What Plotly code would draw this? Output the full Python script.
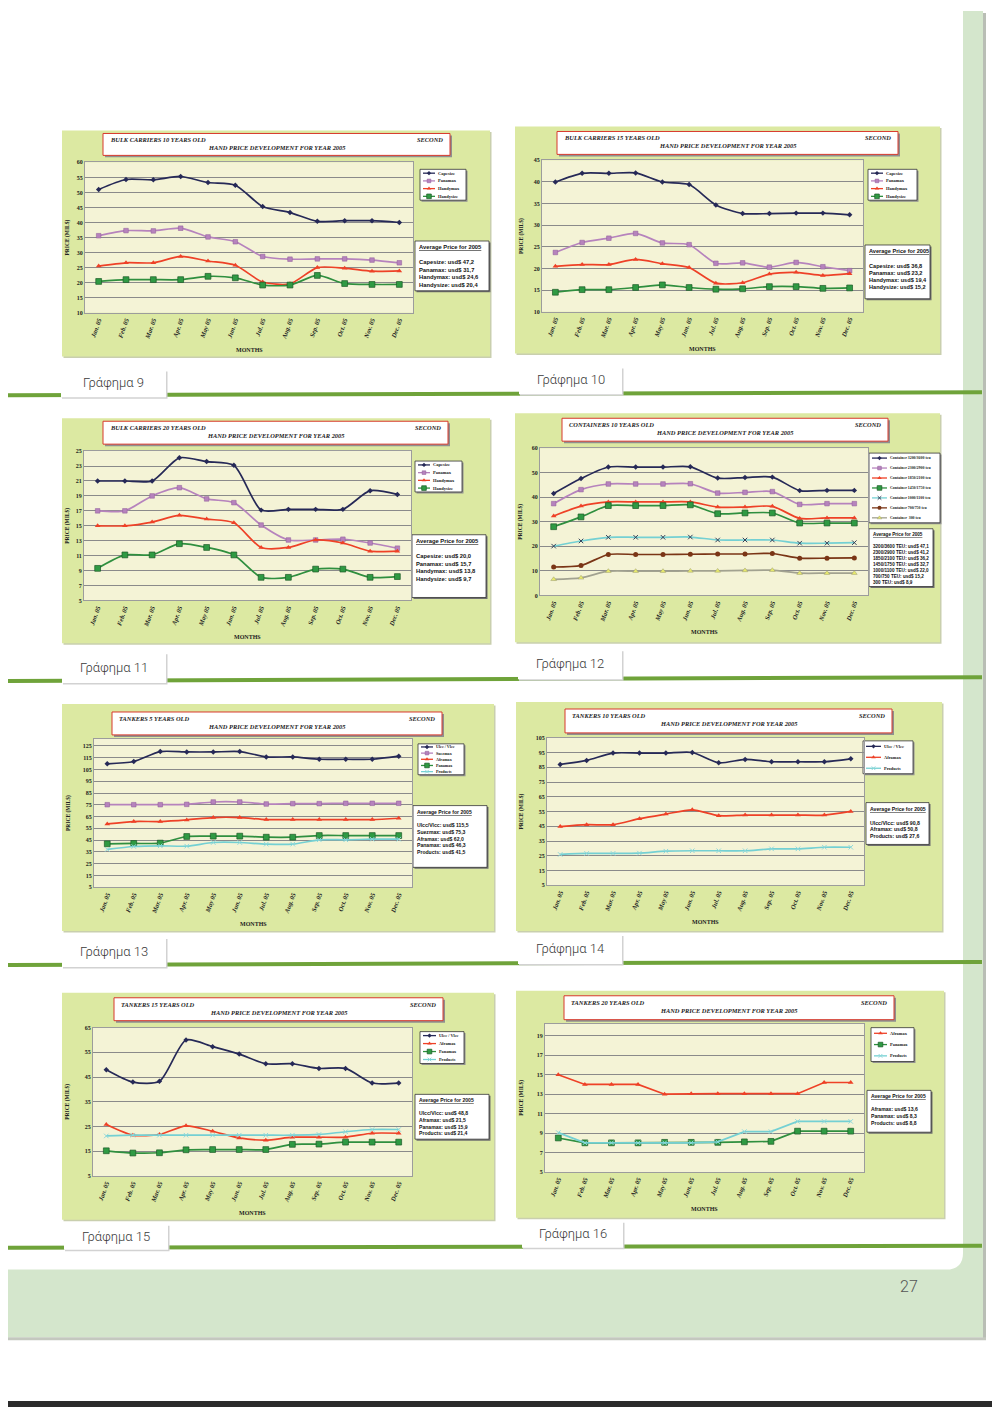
import copy
import plotly.graph_objects as go

# page is 1000 x 1414; the html body adds an 8 px margin, so the figure covers 8..1000 / 8..1414
W, H = 1000, 1414
OFF = 8
W_FIG, H_FIG = W - OFF, H - OFF

MONTHS = ["Jan. 05", "Feb. 05", "Mar. 05", "Apr. 05", "May 05", "Jun. 05",
          "Jul. 05", "Aug. 05", "Sep. 05", "Oct. 05", "Nov. 05", "Dec. 05"]

BULK_NAMES = ["Capesize", "Panamax", "Handymax", "Handysize"]

# Γράφημα 9 – Bulk carriers 10 years old
BC10_CAPESIZE = [51.0, 54.3, 54.2, 55.3, 53.3, 52.4, 45.3, 43.3, 40.4, 40.6, 40.6, 40.0]
BC10_PANAMAX = [35.6, 37.3, 37.2, 38.1, 35.2, 33.6, 28.7, 27.8, 27.9, 27.9, 27.5, 26.6]
BC10_HANDYMAX = [25.5, 26.6, 26.6, 28.7, 27.2, 25.8, 20.2, 19.6, 25.0, 24.8, 23.8, 23.9]
BC10_HANDYSIZE = [20.4, 21.0, 21.0, 21.0, 22.1, 21.6, 19.2, 19.2, 22.4, 19.7, 19.4, 19.4]
BC10_AVG = ["Capesize: usd$ 47,2", "Panamax: usd$ 31,7", "Handymax: usd$ 24,6", "Handysize: usd$ 20,4"]
BC10_YTICKS = [10, 15, 20, 25, 30, 35, 40, 45, 50, 55, 60]

# Γράφημα 10 – Bulk carriers 15 years old
BC15_CAPESIZE = [40.0, 42.0, 42.0, 42.1, 40.0, 39.4, 34.7, 32.7, 32.7, 32.8, 32.8, 32.4]
BC15_PANAMAX = [23.7, 26.0, 27.0, 28.1, 25.9, 25.5, 21.2, 21.3, 20.3, 21.4, 20.4, 19.5]
BC15_HANDYMAX = [20.5, 20.9, 20.9, 22.1, 21.1, 20.2, 16.6, 16.7, 18.7, 19.1, 18.4, 18.8]
BC15_HANDYSIZE = [14.5, 15.1, 15.1, 15.6, 16.2, 15.6, 15.2, 15.3, 15.8, 15.8, 15.4, 15.5]
BC15_AVG = ["Capesize: usd$ 36,8", "Panamax: usd$ 23,2", "Handymax: usd$ 19,4", "Handysize: usd$ 15,2"]
BC15_YTICKS = [10, 15, 20, 25, 30, 35, 40, 45]

# Γράφημα 11 – Bulk carriers 20 years old
BC20_CAPESIZE = [21.0, 21.0, 21.0, 24.1, 23.6, 23.1, 17.1, 17.2, 17.2, 17.2, 19.7, 19.2]
BC20_PANAMAX = [17.0, 17.0, 19.0, 20.1, 18.6, 18.1, 15.1, 13.1, 13.1, 13.2, 12.7, 12.0]
BC20_HANDYMAX = [15.0, 15.0, 15.5, 16.4, 15.9, 15.4, 12.1, 12.1, 13.1, 12.7, 11.6, 11.6]
BC20_HANDYSIZE = [9.3, 11.1, 11.1, 12.6, 12.1, 11.1, 8.1, 8.1, 9.2, 9.2, 8.1, 8.2]
BC20_AVG = ["Capesize: usd$ 20,0", "Panamax: usd$ 15,7", "Handymax: usd$ 13,8", "Handysize: usd$ 9,7"]
BC20_YTICKS = [5, 7, 9, 11, 13, 15, 17, 19, 21, 23, 25]

# Γράφημα 12 – Containers 10 years old
CONT_NAMES = ["Container 3200/3600 teu", "Container 2300/2900 teu", "Container 1850/2100 teu",
              "Container 1450/1750 teu", "Container 1000/1100 teu", "Container 700/750 teu",
              "Container  300 teu"]
CONT_3200 = [41.5, 47.6, 52.3, 52.3, 52.3, 52.4, 47.8, 48.0, 48.2, 42.7, 42.8, 42.8]
CONT_2300 = [37.4, 43.1, 45.4, 45.4, 45.4, 45.5, 41.7, 42.0, 42.3, 37.1, 37.4, 37.4]
CONT_1850 = [32.4, 36.4, 38.1, 38.1, 38.1, 38.1, 36.0, 36.0, 36.3, 31.4, 31.6, 31.6]
CONT_1450 = [28.0, 32.0, 36.6, 36.6, 36.6, 36.9, 33.3, 33.6, 33.6, 29.5, 29.5, 29.5]
CONT_1000 = [20.1, 22.2, 23.7, 23.7, 23.7, 23.8, 22.6, 22.6, 22.6, 21.3, 21.3, 21.5]
CONT_700 = [11.6, 12.2, 16.7, 16.7, 16.7, 16.8, 16.9, 16.9, 17.1, 15.2, 15.2, 15.3]
CONT_300 = [6.6, 7.2, 9.9, 9.9, 9.9, 10.0, 10.0, 10.2, 10.3, 9.1, 9.1, 9.1]
CONT_AVG = ["3200/3600 TEU: usd$ 47,1", "2300/2900 TEU: usd$ 41,2", "1850/2100 TEU: usd$ 36,2",
            "1450/1750 TEU: usd$ 32,7", "1000/1100 TEU: usd$ 22,0", "700/750 TEU: usd$ 15,2",
            "300 TEU: usd$ 8,9"]
CONT_YTICKS = [0, 10, 20, 30, 40, 50, 60]

# Γράφημα 13 – Tankers 5 years old
T5_NAMES = ["Ulcc / Vlcc", "Suezmax", "Aframax", "Panamax", "Products"]
T5_ULCC = [109.8, 111.8, 120.2, 119.9, 119.9, 120.2, 115.7, 115.7, 113.7, 113.7, 113.7, 116.3]
T5_SUEZMAX = [75.1, 75.1, 75.1, 75.4, 77.4, 77.4, 75.7, 76.0, 76.0, 76.3, 76.3, 76.3]
T5_AFRAMAX = [58.8, 60.8, 60.8, 62.2, 64.2, 64.2, 62.5, 62.5, 62.5, 62.5, 62.5, 63.6]
T5_PANAMAX = [41.9, 42.2, 42.5, 48.1, 48.4, 48.4, 47.5, 47.5, 48.9, 48.9, 48.9, 48.9]
T5_PRODUCTS = [37.1, 39.6, 40.2, 39.9, 43.0, 43.0, 41.6, 41.6, 45.3, 45.3, 45.8, 45.8]
T5_AVG = ["Ulcc/Vlcc: usd$ 115,5", "Suezmax: usd$ 75,3", "Aframax: usd$ 62,0",
          "Panamax: usd$ 46,3", "Products: usd$ 41,5"]
T5_YTICKS = [5, 15, 25, 35, 45, 55, 65, 75, 85, 95, 105, 115, 125]

# Γράφημα 14 – Tankers 10 years old
T10_NAMES = ["Ulcc / Vlcc", "Aframax", "Products"]
T10_ULCC = [87.0, 89.7, 94.7, 94.7, 94.7, 95.1, 88.1, 90.4, 88.8, 88.8, 88.8, 90.8]
T10_AFRAMAX = [44.8, 46.1, 46.1, 50.2, 53.3, 56.2, 52.2, 52.6, 52.6, 52.6, 52.6, 55.1]
T10_PRODUCTS = [25.9, 26.6, 26.6, 26.8, 28.1, 28.4, 28.4, 28.4, 29.7, 29.7, 30.8, 30.8]
T10_AVG = ["Ulcc/Vlcc: usd$ 90,8", "Aframax: usd$ 50,8", "Products: usd$ 27,6"]
T10_YTICKS = [5, 15, 25, 35, 45, 55, 65, 75, 85, 95, 105]

# Γράφημα 15 – Tankers 15 years old
T15_NAMES = ["Ulcc / Vlcc", "Aframax", "Panamax", "Products"]
T15_ULCC = [48.0, 43.0, 43.3, 60.0, 57.3, 54.3, 50.4, 50.4, 48.5, 48.5, 42.6, 42.6]
T15_AFRAMAX = [25.8, 21.5, 21.8, 25.3, 23.1, 20.4, 19.5, 20.7, 20.7, 20.7, 22.3, 22.3]
T15_PANAMAX = [15.2, 14.3, 14.4, 15.6, 15.7, 15.7, 15.7, 17.8, 17.9, 18.7, 18.7, 18.7]
T15_PRODUCTS = [21.2, 21.5, 21.5, 21.5, 21.5, 21.5, 21.5, 21.5, 21.8, 22.9, 23.8, 23.8]
T15_AVG = ["Ulcc/Vlcc: usd$ 48,8", "Aframax: usd$ 21,5", "Panamax: usd$ 15,9", "Products: usd$ 21,4"]
T15_YTICKS = [5, 15, 25, 35, 45, 55, 65]

# Γράφημα 16 – Tankers 20 years old
T20_NAMES = ["Aframax", "Panamax", "Products"]
T20_AFRAMAX = [15.0, 14.0, 14.0, 14.0, 13.0, 13.05, 13.05, 13.05, 13.05, 13.05, 14.2, 14.2]
T20_PANAMAX = [8.5, 8.0, 8.0, 8.0, 8.05, 8.05, 8.05, 8.1, 8.15, 9.2, 9.2, 9.2]
T20_PRODUCTS = [9.05, 8.0, 8.0, 8.0, 8.0, 8.0, 8.1, 9.15, 9.15, 10.2, 10.2, 10.2]
T20_AVG = ["Aframax: usd$ 13,6", "Panamax: usd$ 8,3", "Products: usd$ 8,8"]
T20_YTICKS = [5, 7, 9, 11, 13, 15, 17, 19]

CAPTIONS = ["Γράφημα 9", "Γράφημα 10", "Γράφημα 11", "Γράφημα 12",
            "Γράφημα 13", "Γράφημα 14", "Γράφημα 15", "Γράφημα 16"]
PAGE_NUMBER = "27"

SERIF = "Liberation Serif"
SANS = "Liberation Sans"
PANEL = "#dce9a2"
PLOTBG = "#f4f3d6"
GRID = "#8a8a8a"
AXC = "#9c9c9c"

STYLES = {
    "navy": dict(line="#262957", marker=dict(symbol="diamond", size=4.2, color="#262957")),
    "purple": dict(line="#b683bd", marker=dict(symbol="square", size=4.6, color="#b683bd",
                                               line=dict(color="#8e5a98", width=0.5))),
    "red": dict(line="#ee4127", marker=dict(symbol="triangle-up", size=5, color="#ee4127")),
    "green": dict(line="#2f8f3f", marker=dict(symbol="square", size=5.8, color="#2f9a43",
                                              line=dict(color="#1c5a26", width=0.7))),
    "cyan": dict(line="#74d0d3", marker=dict(symbol="x-thin", size=4.5,
                                             line=dict(color="#8fd8da", width=1))),
    "cyanx": dict(line="#74d0d3", marker=dict(symbol="x-thin", size=4.5,
                                              line=dict(color="#33415a", width=1))),
    "brown": dict(line="#7a3516", marker=dict(symbol="circle", size=5, color="#7a3516")),
    "khaki": dict(line="#a2a290", marker=dict(symbol="triangle-up", size=5, color="#e8ea6c",
                                              line=dict(color="#9a9a70", width=0.5))),
}

CHARTS = [
    dict(head="BULK CARRIERS 10 YEARS OLD", names=BULK_NAMES,
         values=[BC10_CAPESIZE, BC10_PANAMAX, BC10_HANDYMAX, BC10_HANDYSIZE],
         styles=["navy", "purple", "red", "green"], avg=BC10_AVG, yrange=(10, 60), ytick=BC10_YTICKS,
         panel=(62, 128, 490, 355), tbox=(103, 131, 450, 153), plot=(85, 160, 413, 311),
         leg=(420, 167, 466, 198), abox=(415, 239, 489, 289), afont=5.8, lfont=4.5, sample=12,
         shape="spline"),
    dict(head="BULK CARRIERS 15 YEARS OLD", names=BULK_NAMES,
         values=[BC15_CAPESIZE, BC15_PANAMAX, BC15_HANDYMAX, BC15_HANDYSIZE],
         styles=["navy", "purple", "red", "green"], avg=BC15_AVG, yrange=(10, 45), ytick=BC15_YTICKS,
         panel=(515, 124, 940, 352), tbox=(557, 129, 898, 152), plot=(542, 158, 863, 310),
         leg=(868, 167, 917, 198), abox=(865, 243, 930, 297), afont=5.6, lfont=4.5, sample=12,
         shape="spline"),
    dict(head="BULK CARRIERS 20 YEARS OLD", names=BULK_NAMES,
         values=[BC20_CAPESIZE, BC20_PANAMAX, BC20_HANDYMAX, BC20_HANDYSIZE],
         styles=["navy", "purple", "red", "green"], avg=BC20_AVG, yrange=(5, 25), ytick=BC20_YTICKS,
         panel=(62, 417, 490, 643), tbox=(103, 420, 448, 443), plot=(84, 450, 411, 600),
         leg=(415, 460, 462, 491), abox=(412, 534, 486, 597), afont=5.8, lfont=4.5, sample=12,
         shape="spline"),
    dict(head="CONTAINERS 10 YEARS OLD", names=CONT_NAMES,
         values=[CONT_3200, CONT_2300, CONT_1850, CONT_1450, CONT_1000, CONT_700, CONT_300],
         styles=["navy", "purple", "red", "green", "cyanx", "brown", "khaki"], avg=CONT_AVG,
         yrange=(0, 60), ytick=CONT_YTICKS,
         panel=(515, 412, 940, 642), tbox=(562, 417, 888, 440), plot=(540, 447, 868, 595),
         leg=(869, 452, 940, 522), abox=(869, 528, 933, 586), afont=4.6, lfont=3.9, sample=15,
         shape="spline"),
    dict(head="TANKERS 5 YEARS OLD", names=T5_NAMES,
         values=[T5_ULCC, T5_SUEZMAX, T5_AFRAMAX, T5_PANAMAX, T5_PRODUCTS],
         styles=["navy", "purple", "red", "green", "cyan"], avg=T5_AVG, yrange=(5, 131), ytick=T5_YTICKS,
         panel=(62, 704, 494, 932), tbox=(112, 712, 442, 735), plot=(94, 739, 412, 888),
         leg=(418, 744, 464, 775), abox=(413, 806, 487, 868), afont=5.1, lfont=4.1, sample=12,
         shape="spline"),
    dict(head="TANKERS 10 YEARS OLD", names=T10_NAMES,
         values=[T10_ULCC, T10_AFRAMAX, T10_PRODUCTS],
         styles=["navy", "red", "cyan"], avg=T10_AVG, yrange=(5, 105), ytick=T10_YTICKS,
         panel=(516, 702, 942, 932), tbox=(565, 709, 892, 733), plot=(547, 738, 864, 886),
         leg=(863, 741, 913, 774), abox=(866, 803, 929, 845), afont=5.2, lfont=4.4, sample=15,
         shape="spline"),
    dict(head="TANKERS 15 YEARS OLD", names=T15_NAMES,
         values=[T15_ULCC, T15_AFRAMAX, T15_PANAMAX, T15_PRODUCTS],
         styles=["navy", "red", "green", "cyan"], avg=T15_AVG, yrange=(5, 65), ytick=T15_YTICKS,
         panel=(62, 994, 494, 1222), tbox=(114, 999, 443, 1022), plot=(93, 1029, 412, 1178),
         leg=(420, 1033, 464, 1065), abox=(415, 1096, 489, 1141), afont=5.1, lfont=4.3, sample=13,
         shape="spline"),
    dict(head="TANKERS 20 YEARS OLD", names=T20_NAMES,
         values=[T20_AFRAMAX, T20_PANAMAX, T20_PRODUCTS],
         styles=["red", "green", "cyan"], avg=T20_AVG, yrange=(5, 20.25), ytick=T20_YTICKS,
         panel=(516, 992, 944, 1220), tbox=(564, 997, 894, 1021), plot=(545, 1025, 864, 1174),
         leg=(871, 1029, 914, 1063), abox=(867, 1092, 931, 1134), afont=5.1, lfont=4.4, sample=13,
         shape="linear"),
]

# page decoration geometry (page pixels)
SEPARATORS = [(394, 391), (681, 677), (966, 963), (1250, 1248)]
TABS = [(61, 369, 166, 396), (519, 366, 622, 393), (62, 653, 166, 683), (518, 650, 622, 679),
        (62, 939, 166, 968), (518, 936, 622, 965), (64, 1227, 168, 1252), (522, 1224, 623, 1250)]


def fx(px):
    return (px - OFF) / W_FIG


def fy(py):
    return 1 - (py - OFF) / H_FIG


shapes = []
annots = []


def rect(x0, y0, x1, y1, fill, line=None, lw=0, layer="below"):
    shapes.append(dict(type="rect", xref="paper", yref="paper", x0=fx(x0), x1=fx(x1),
                       y0=fy(y1), y1=fy(y0), fillcolor=fill, layer=layer,
                       line=dict(color=line if line else "rgba(0,0,0,0)", width=lw)))


def text(s, x, y, size, family=SANS, color="#222", xanchor="center", yanchor="middle",
         angle=0, align="center", weight=None, style=None):
    f = dict(family=family, size=size, color=color)
    if weight:
        f["weight"] = weight
    if style:
        f["style"] = style
    annots.append(dict(text=s, x=fx(x), y=fy(y), xref="paper", yref="paper", showarrow=False,
                       xanchor=xanchor, yanchor=yanchor, textangle=angle, align=align, font=f,
                       borderpad=0))


# ---------- page decoration ----------
rect(5, 8, 983, 1340, "#d4e6cc")
rect(983, 10, 986, 1342, "#b9beb5")
rect(5, 1340, 986, 1343, "#c4c8bf")
r = 17
path = (f"M {fx(0)},{fy(0)} L {fx(963)},{fy(0)} L {fx(963)},{fy(1272 - r)} "
        f"Q {fx(963)},{fy(1272)} {fx(963 - r)},{fy(1272)} L {fx(0)},{fy(1272)} Z")
shapes.append(dict(type="path", xref="paper", yref="paper", path=path, fillcolor="white",
                   line=dict(width=0), layer="below"))
for yl, yr in SEPARATORS:
    shapes.append(dict(type="line", xref="paper", yref="paper", x0=fx(5), y0=fy(yl), x1=fx(982),
                       y1=fy(yr), line=dict(color="#6fa33a", width=4), layer="below"))
for (x0, y0, x1, y1), cap in zip(TABS, CAPTIONS):
    rect(x0 + 1, y0 + 1, x1 + 1.5, y1 + 1.5, "#d2d2d2")
    rect(x0, y0, x1, y1, "white")
    text(cap, (x0 + x1) / 2, (y0 + y1) / 2 - 1, 13, family="Roboto", color="#3a3a3a", weight=300)
text(PAGE_NUMBER, 909, 1289, 16, family="Roboto", color="#555", weight=300)
rect(5, 1404, 996, 1410, "#2b2b2b")

fig = go.Figure()

# overlay pixel axes (page pixel coordinates) for the legend samples
layout_axes = {
    "xaxis9": dict(domain=[0, 1], range=[OFF, OFF + W_FIG], visible=False, fixedrange=True,
                   anchor="y9"),
    "yaxis9": dict(domain=[0, 1], range=[OFF + H_FIG, OFF], visible=False, fixedrange=True,
                   anchor="x9"),
}

for i, c in enumerate(CHARTS, start=1):
    sfx = "" if i == 1 else str(i)
    px0, py0, px1, py1 = c["panel"]
    rect(px0 + 1.5, py0 + 1.5, px1 + 1.5, py1 + 1.5, "#c9cfae")
    rect(px0, py0, px1, py1, PANEL)
    qx0, qy0, qx1, qy1 = c["plot"]
    rect(qx0, qy0, qx1, qy1, PLOTBG)
    tx0, ty0, tx1, ty1 = c["tbox"]
    rect(tx0 + 2, ty0 + 2, tx1 + 2, ty1 + 2, "#8f8f8f")
    rect(tx0, ty0, tx1, ty1, "white", line="#d8392c", lw=1)
    text(f"<b><i>{c['head']}</i></b>", tx0 + 6, ty0 + 6.5, 6.4, family=SERIF, color="#222",
         xanchor="left")
    text("<b><i>SECOND</i></b>", tx1 - 6, ty0 + 6.5, 6.4, family=SERIF, color="#222", xanchor="right")
    text("<b><i>HAND PRICE DEVELOPMENT FOR YEAR 2005</i></b>", (tx0 + tx1) / 2, ty0 + 14.5, 6.4,
         family=SERIF, color="#222")
    text("<b>PRICE (MIL$)</b>", px0 + 6, (qy0 + qy1) / 2, 5.5, family=SERIF, color="#222", angle=-90)
    text("<b>MONTHS</b>", (qx0 + qx1) / 2, qy1 + 37, 6, family=SERIF, color="#222")
    lx0, ly0, lx1, ly1 = c["leg"]
    rect(lx0 + 1.5, ly0 + 1.5, lx1 + 1.5, ly1 + 1.5, "#8f8f8f")
    rect(lx0, ly0, lx1, ly1, "white", line="#333", lw=0.8)
    ax0, ay0, ax1, ay1 = c["abox"]
    rect(ax0 + 1.5, ay0 + 1.5, ax1 + 1.5, ay1 + 1.5, "#6f6f6f")
    rect(ax0, ay0, ax1, ay1, "white", line="#333", lw=0.8)
    avg_txt = "<b><u>Average Price for 2005</u></b><br>\u00a0<br>" + "<br>".join(
        f"<b>{s}</b>" for s in c["avg"])
    text(avg_txt, ax0 + 2.5, ay0 + 2, c["afont"], family=SANS, color="#111", xanchor="left",
         yanchor="top", align="left")

    layout_axes[f"xaxis{sfx}"] = dict(
        domain=[fx(qx0), fx(qx1)], anchor=f"y{sfx}", type="category", categoryorder="array",
        categoryarray=MONTHS, range=[-0.5, 11.5], showgrid=False, showline=True, mirror=True,
        linecolor=AXC, linewidth=1, ticks="", tickangle=-70, fixedrange=True,
        tickfont=dict(family=SERIF, size=6.5, color="#222", weight="bold", style="italic"))
    layout_axes[f"yaxis{sfx}"] = dict(
        domain=[fy(qy1), fy(qy0)], anchor=f"x{sfx}", range=list(c["yrange"]), tickvals=c["ytick"],
        showgrid=True, gridcolor=GRID, gridwidth=1, showline=True, mirror=True, linecolor=AXC,
        linewidth=1, zeroline=False, ticks="", fixedrange=True,
        tickfont=dict(family=SERIF, size=6, color="#222", weight="bold"))

    n = len(c["names"])
    for j, (name, vals, sk) in enumerate(zip(c["names"], c["values"], c["styles"])):
        st = STYLES[sk]
        fig.add_trace(go.Scatter(
            x=MONTHS, y=vals, name=name, mode="lines+markers",
            line=dict(color=st["line"], width=1.7, shape=c["shape"], smoothing=0.7),
            marker=st["marker"], xaxis=f"x{sfx}", yaxis=f"y{sfx}", showlegend=False,
            cliponaxis=False))
        yy = ly0 + (j + 0.5) * (ly1 - ly0) / n
        xa, xb = lx0 + 3, lx0 + 3 + c["sample"]
        fig.add_trace(go.Scatter(x=[xa, xb], y=[yy, yy], mode="lines",
                                 line=dict(color=st["line"], width=1.3), xaxis="x9", yaxis="y9",
                                 showlegend=False, hoverinfo="skip"))
        m = copy.deepcopy(st["marker"])
        m["size"] = m["size"] * 0.8
        fig.add_trace(go.Scatter(x=[(xa + xb) / 2], y=[yy], mode="markers", marker=m, xaxis="x9",
                                 yaxis="y9", showlegend=False, hoverinfo="skip"))
        text(f"<b>{name}</b>", xb + 2, yy, c["lfont"], family=SERIF, color="#222", xanchor="left")

fig.update_layout(layout_axes)
fig.update_layout(
    width=W_FIG, height=H_FIG, margin=dict(l=0, r=0, t=0, b=0), paper_bgcolor="white",
    plot_bgcolor="rgba(0,0,0,0)", showlegend=False, shapes=shapes, annotations=annots,
    hovermode=False)

fig.write_html("out.html")
